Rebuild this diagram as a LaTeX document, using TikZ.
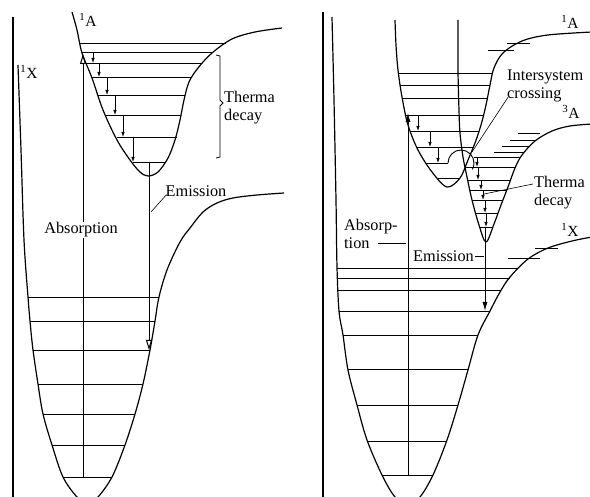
\documentclass[tikz,border=0pt]{standalone}
\usepackage{fontspec}
\setmainfont{Liberation Serif}
\usetikzlibrary{arrows.meta}
\begin{document}
\begin{tikzpicture}[x=1pt,y=-1pt,
  curve/.style={line width=1.2pt, line join=round},
  lvl/.style={line width=0.75pt},
  framel/.style={line width=1.4pt},
  decay/.style={line width=0.75pt, -{Latex[length=5pt,width=3.5pt]}},
  absopen/.style={line width=1pt, -{Triangle[open, length=10pt, width=6pt]}},
  absfill/.style={line width=1pt, -{Latex[length=9pt, width=5pt]}},
  lbl/.style={font=\fontsize{16.3}{18}\selectfont, inner sep=1pt},
  statelbl/.style={font=\fontsize{15.5}{15}\selectfont, inner sep=0pt},
  leader/.style={line width=0.6pt}]
\useasboundingbox (0,0) rectangle (590,497);

% ================= LEFT PANEL =================
\draw[framel] (13,17) -- (13,497);
% ground state 1X
\draw[curve] plot[smooth, tension=0.55] coordinates {(18,65) (21,150) (24,240) (28,297) (30,321) (33,350) (38,384) (43,414) (52,445) (63,477) (77,497) (88,504) (98,497) (112,477) (125,445) (135,414) (143,384) (150,350) (155,321) (159,297) (167,270) (180,242) (190,228) (203,212) (217,203) (233,198) (257,195) (284,193)};
% excited 1A
\draw[curve] plot[smooth, tension=0.55] coordinates {(72,12) (77,30) (82,53) (92,78) (103,110) (117,140) (130,160) (140,172) (148,176) (158,172) (168,158) (175,140) (180,120) (184,100) (189,82) (198,68) (212,53) (232,39) (255,32) (282,28)};
% levels
\foreach \y/\a/\b in {43/80/226, 52/82/213, 63/86/201, 77/91/191, 95/98/185, 115/106/181, 137/117/177, 162/133/166}
  \draw[lvl] (\a,\y) -- (\b,\y);
\foreach \y/\a/\b in {297/28/159, 321/30/155, 350/33/150, 384/38/143, 414/43/135, 445/52/125, 477/63/112}
  \draw[lvl] (\a,\y) -- (\b,\y);
% thermal decay arrows
\foreach \x/\a/\b in {93/52/63, 99/63/77, 107/77/95, 115/95/115, 123/115/137, 133/137/162}
  \draw[decay] (\x,\a) -- (\x,\b);
% absorption / emission
\coordinate (absLb) at (83,477);
\coordinate (absLt) at (83,54);
\draw[absopen] (absLb) -- (absLt);
\coordinate (emiLt) at (149,162);
\coordinate (emiLb) at (149,350);
\draw[absopen] (emiLt) -- (emiLb);
% bracket
\draw[leader, line width=0.8pt] (216,55) -- (220,56) -- (220,100) -- (223,103) -- (220,106) -- (220,157) -- (216,158);
% labels
\node[statelbl] (sXl) at (29,72) {\textsuperscript{1}X};
\node[statelbl] (sAl) at (88,20) {\textsuperscript{1}A};
\node[lbl, fill=white] (absl) at (81,230) {Absorption};
\node[lbl] (emil) at (196,191) {Emission};
\coordinate (emilp) at (151,212);
\draw[leader] (emilp) -- ([xshift=2pt,yshift=3pt]emil.south west);
\node[lbl, align=left, anchor=west] (thl) at (223,108) {Therma\\decay};

% ================= RIGHT PANEL =================
\draw[framel] (323,12) -- (323,497);
% ground state 1X
\draw[curve] plot[smooth, tension=0.55] coordinates {(332,17) (334,100) (336,200) (337,267) (339,311) (343,335) (348,370) (357,405) (367,440) (382,475) (395,497) (408,505) (420,497) (433,475) (447,440) (458,405) (468,370) (478,335) (490,311) (500,292) (510,277) (528,259) (548,248) (572,241) (592,237)};
% singlet 1A
\draw[curve] plot[smooth, tension=0.55] coordinates {(395,20) (396,45) (398,70) (402,97) (408,125) (418,150) (432,172) (447,187) (460,178) (468,160) (475,143) (481,125) (486,105) (490,85) (494,68) (503,53) (522,41) (548,35) (592,32)};
% triplet 3A
\draw[curve] plot[smooth, tension=0.55] coordinates {(458,20) (458,70) (459,110) (460,133) (463,157) (467,177) (472,200) (479,225) (486,242) (494,224) (501,205) (508,187) (515,168) (522,155) (535,141) (552,131) (570,126) (592,124)};
% levels
\foreach \y/\a/\b in {73/398/493, 85/400/490, 98/402/487, 115/405/483, 131/410/479, 147/417/474, 163/426/448, 178/438/460}
  \draw[lvl] (\a,\y) -- (\b,\y);
\foreach \y/\a/\b in {157/474/521, 167/465/515, 180/468/510, 190/470/506, 200/472/502, 213/475/498, 227/480/493}
  \draw[lvl] (\a,\y) -- (\b,\y);
\foreach \y/\a/\b in {268/337/518, 278/338/510, 290/338/501, 311/339/490, 335/343/478, 369/348/468, 405/357/458, 441/367/447, 475/382/433}
  \draw[lvl] (\a,\y) -- (\b,\y);
% short upper levels
\foreach \y/\a/\b in {50/488/514, 43/507/530, 133/518/540, 140/510/536, 146/502/530, 152/494/524, 258/508/540, 248/535/558}
  \draw[lvl] (\a,\y) -- (\b,\y);
% crossing loop
\draw[curve, line width=0.9pt] (448,163) arc[start angle=180, end angle=390, radius=13];
% thermal decay arrows
\foreach \x/\a/\b in {418/115/131, 430/131/147, 438/147/163, 477/157/167, 478/167/180, 481/180/190, 483/190/200, 485/200/213, 486/213/227}
  \draw[decay] (\x,\a) -- (\x,\b);
% absorption / emission
\coordinate (absRb) at (408,475);
\coordinate (absRt) at (408,113);
\draw[absfill] (absRb) -- (absRt);
\coordinate (emiRt) at (485,227);
\coordinate (emiRb) at (485,311);
\draw[absfill] (emiRt) -- (emiRb);
% labels
\node[statelbl] (sAr) at (570,22) {\textsuperscript{1}A};
\node[statelbl] (tAr) at (571,112) {\textsuperscript{3}A};
\node[statelbl] (sXr) at (570,230) {\textsuperscript{1}X};
\node[lbl, align=left, anchor=west] (isc) at (506,86) {Intersystem\\crossing};
\coordinate (iscp) at (472,152);
\draw[leader] (iscp) -- ([xshift=2pt,yshift=6pt]isc.south west);
\node[lbl, align=left, anchor=west] (thr) at (533,193) {Therma\\decay};
\coordinate (thrp) at (484,194);
\draw[leader] (thrp) -- ([yshift=9pt]thr.west);
\node[lbl, align=left, anchor=west] (absr) at (343,234) {Absorp-\\tion};
\coordinate (absrA) at (378,243);
\coordinate (absrB) at (406,243);
\draw[leader] (absrA) -- (absrB);
\node[lbl, anchor=east] (emir) at (475,256) {Emission};
\coordinate (emirB) at (484,256);
\draw[leader] (emir.east) -- (emirB);
\end{tikzpicture}
\end{document}
